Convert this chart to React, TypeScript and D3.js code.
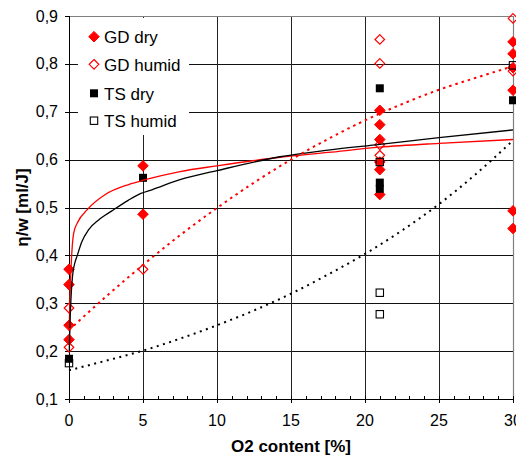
import React from "react";
import * as d3 from "d3";

// ---- data ----
const gdDryX = [0, 0, 0, 0, 5, 5, 21, 21, 21, 21, 21, 21, 30, 30, 30, 30, 30, 30];
const gdDryY = [0.371, 0.339, 0.254, 0.224, 0.587, 0.486, 0.703, 0.673, 0.642, 0.595, 0.579, 0.527, 0.846, 0.821, 0.792, 0.745, 0.493, 0.456];

const gdHumidX = [0, 0, 5, 21, 21, 21, 21, 30, 30];
const gdHumidY = [0.29, 0.208, 0.371, 0.851, 0.801, 0.631, 0.609, 0.895, 0.785];

const tsDryX = [0, 5, 21, 21, 21, 30];
const tsDryY = [0.184, 0.562, 0.749, 0.552, 0.539, 0.724];

const tsHumidX = [0, 21, 21, 21, 30];
const tsHumidY = [0.175, 0.595, 0.322, 0.277, 0.797];

// trend lines
const gdDryTrendX = [0.02, 0.06, 0.12, 0.2, 0.32, 0.6, 1.22, 2.45, 4.03, 5.15, 7.5, 10, 14.25, 17.5, 21, 25, 30];
const gdDryTrendY = [0.25, 0.31, 0.36, 0.41, 0.447, 0.47, 0.495, 0.527, 0.548, 0.558, 0.575, 0.587, 0.605, 0.615, 0.626, 0.634, 0.642];

const tsDryTrendX = [0.02, 0.08, 0.15, 0.25, 0.4, 0.54, 0.86, 1.33, 2.0, 2.9, 4.0, 4.82, 5.6, 7.5, 10, 14.25, 17.5, 21, 25, 30];
const tsDryTrendY = [0.2, 0.27, 0.32, 0.36, 0.385, 0.398, 0.428, 0.454, 0.474, 0.493, 0.515, 0.529, 0.537, 0.558, 0.577, 0.606, 0.62, 0.632, 0.646, 0.662];

const gdHumidTrendX = [0, 2.5, 5, 7.5, 10, 12.5, 15, 17.5, 20, 22.5, 25, 27.5, 30];
const gdHumidTrendY = [0.244, 0.314, 0.38, 0.442, 0.499, 0.552, 0.6, 0.643, 0.682, 0.716, 0.746, 0.771, 0.795];

const tsHumidTrendX = [0, 2.5, 5, 7.5, 10, 12.5, 15, 17.5, 20, 22.5, 25, 27.5, 30];
const tsHumidTrendY = [0.16, 0.18, 0.201, 0.226, 0.254, 0.285, 0.32, 0.36, 0.403, 0.452, 0.507, 0.57, 0.64];

const xTicks = [0, 5, 10, 15, 20, 25, 30];
const yTicks = [0.1, 0.2, 0.3, 0.4, 0.5, 0.6, 0.7, 0.8, 0.9];
const legendLabels = ["GD dry", "GD humid", "TS dry", "TS humid"];

const W = 516;
const H = 456;
const FONT = "'Liberation Sans', Arial, sans-serif";

export default function App() {
  const x = d3.scaleLinear().domain([0, 30]).range([69, 513]);
  const y = d3.scaleLinear().domain([0.1, 0.9]).range([399, 16]);

  const line = d3
    .line<[number, number]>()
    .x((d) => x(d[0]))
    .y((d) => y(d[1]))
    .curve(d3.curveMonotoneX);

  const zip = (a: number[], b: number[]) => a.map((v, i) => [v, b[i]] as [number, number]);

  const diamond = (cx: number, cy: number, r = 5.3) =>
    `M${cx},${cy - r}L${cx + r},${cy}L${cx},${cy + r}L${cx - r},${cy}Z`;

  const minorTicks = d3.range(0, 31, 1);
  const [x0, x1] = x.range();
  const [yb, yt] = y.range();

  const legendRows = [36.7, 64.3, 93.3, 120.7];

  const drawMarker = (kind: number, cx: number, cy: number, key: string) => {
    if (kind === 0) return <path key={key} d={diamond(cx, cy)} fill="#ff0000" stroke="#ff0000" strokeWidth={1} />;
    if (kind === 1) return <path key={key} d={diamond(cx, cy, 4.8)} fill="none" stroke="#ff0000" strokeWidth={1.2} />;
    if (kind === 2) return <rect key={key} x={cx - 4} y={cy - 4} width={8} height={8} fill="#000" />;
    return <rect key={key} x={cx - 3.7} y={cy - 3.7} width={7.4} height={7.4} fill="none" stroke="#000" strokeWidth={1.1} />;
  };

  return (
    <svg
      width={W}
      height={H}
      style={{ position: "absolute", left: 0, top: 0, background: "#fff" }}
      fontFamily={FONT}
    >
      <rect x={0} y={0} width={W} height={H} fill="#fff" />
      {/* horizontal gridlines */}
      {yTicks.slice(1, -1).map((t) => (
        <line key={"hg" + t} x1={x0} x2={x1} y1={Math.round(y(t)) + 0.5} y2={Math.round(y(t)) + 0.5} stroke="#111" strokeWidth={1} />
      ))}
      {/* vertical gridlines */}
      {xTicks.slice(1, -1).map((t) => (
        <line key={"vg" + t} x1={Math.round(x(t)) + 0.5} x2={Math.round(x(t)) + 0.5} y1={yt} y2={yb} stroke="#222" strokeWidth={1} />
      ))}
      {/* plot border top/right */}
      <line x1={x0} x2={x1} y1={yt + 0.5} y2={yt + 0.5} stroke="#808080" strokeWidth={1.2} />
      <line x1={x1 + 0.5} x2={x1 + 0.5} y1={yt} y2={yb} stroke="#808080" strokeWidth={1.2} />

      {/* legend background */}
      <rect x={78} y={18} width={111} height={117} fill="#fff" />

      {/* axes */}
      <line x1={x0 + 0.5} x2={x0 + 0.5} y1={yt} y2={yb + 1} stroke="#000" strokeWidth={1} />
      <line x1={x0} x2={x1 + 1} y1={yb + 0.5} y2={yb + 0.5} stroke="#000" strokeWidth={1} />
      {yTicks.map((t) => (
        <line key={"yt" + t} x1={x0 - 4} x2={x0} y1={Math.round(y(t)) + 0.5} y2={Math.round(y(t)) + 0.5} stroke="#000" />
      ))}
      {minorTicks.map((t) => (
        <line key={"xm" + t} x1={Math.round(x(t)) + 0.5} x2={Math.round(x(t)) + 0.5} y1={yb - 3} y2={yb + (t % 5 === 0 ? 4 : 0)} stroke="#000" />
      ))}

      {/* tick labels */}
      {yTicks.map((t) => (
        <text key={"yl" + t} x={58} y={y(t) + 5.6} fontSize={16} textAnchor="end" fill="#000">
          {d3.format(".1f")(t).replace(".", ",")}
        </text>
      ))}
      {xTicks.map((t) => (
        <text key={"xl" + t} x={x(t)} y={426} fontSize={16} textAnchor="middle" fill="#000">
          {t}
        </text>
      ))}

      {/* axis titles */}
      <text x={x((0 + 30) / 2)} y={452} fontSize={17} fontWeight="bold" textAnchor="middle">
        O2 content [%]
      </text>
      <text transform={`translate(28,${(yt + yb) / 2}) rotate(-90)`} fontSize={17} fontWeight="bold" textAnchor="middle">
        η/w [ml/J]
      </text>

      {/* markers */}
      {gdDryX.map((v, i) => drawMarker(0, x(v), y(gdDryY[i]), "gd" + i))}
      {gdHumidX.map((v, i) => drawMarker(1, x(v), y(gdHumidY[i]), "gh" + i))}
      {tsDryX.map((v, i) => drawMarker(2, x(v), y(tsDryY[i]), "td" + i))}
      {tsHumidX.map((v, i) => drawMarker(3, x(v), y(tsHumidY[i]), "th" + i))}

      {/* trend lines */}
      <path d={line(zip(gdDryTrendX, gdDryTrendY)) || ""} fill="none" stroke="#ff0000" strokeWidth={1.3} />
      <path d={line(zip(tsDryTrendX, tsDryTrendY)) || ""} fill="none" stroke="#000" strokeWidth={1.3} />
      <path d={line(zip(gdHumidTrendX, gdHumidTrendY)) || ""} fill="none" stroke="#ff0000" strokeWidth={2} strokeDasharray="2.5,4" />
      <path d={line(zip(tsHumidTrendX, tsHumidTrendY)) || ""} fill="none" stroke="#000" strokeWidth={2} strokeDasharray="2,4.5" />

      {/* legend */}
      {legendLabels.map((lab, i) => (
        <g key={"lg" + i}>
          {drawMarker(i, 94, legendRows[i], "lm" + i)}
          <text x={104} y={legendRows[i] + 6.2} fontSize={17} fill="#000">
            {lab}
          </text>
        </g>
      ))}
    </svg>
  );
}
